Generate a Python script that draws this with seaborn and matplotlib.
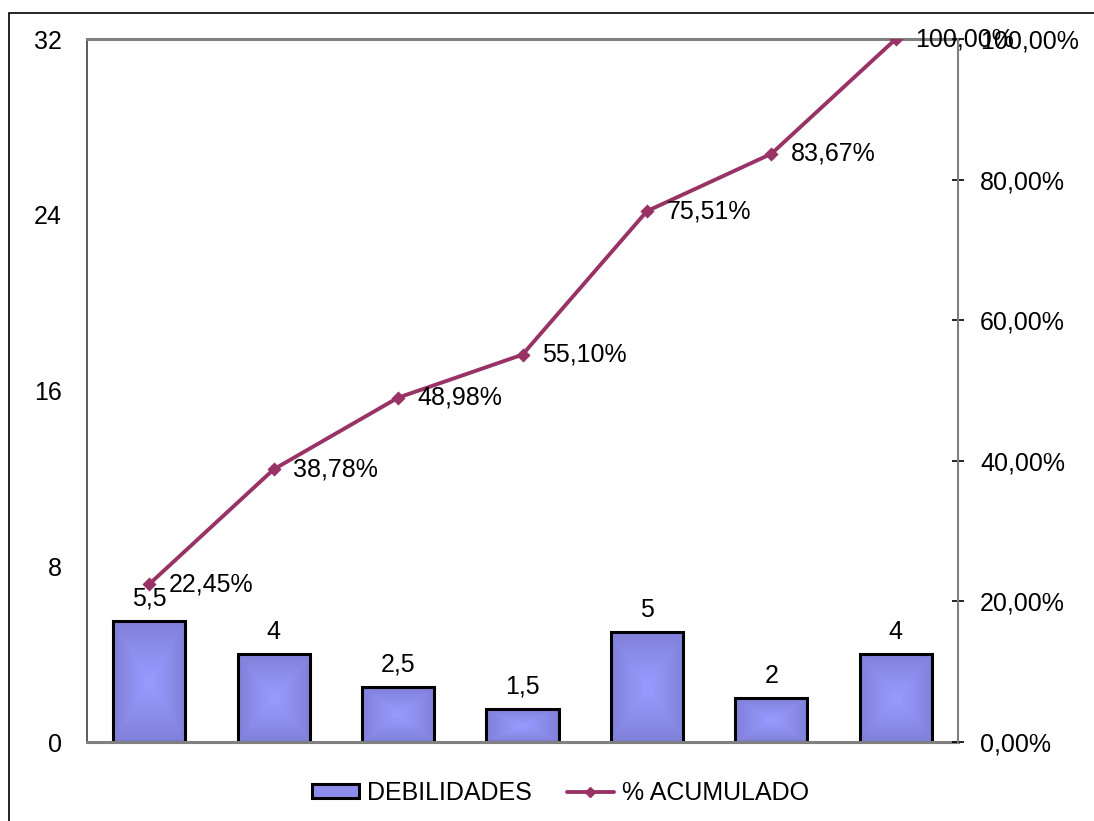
import numpy as np
import pandas as pd
import matplotlib
matplotlib.use("Agg")
import matplotlib.pyplot as plt
import matplotlib.patches as mpatches
from matplotlib.lines import Line2D
import seaborn as sns

categories = ["D1", "D2", "D3", "D4", "D5", "D6", "D7"]
debilidades = [5.5, 4, 2.5, 1.5, 5, 2, 4]
acumulado = [22.45, 38.78, 48.98, 55.10, 75.51, 83.67, 100.00]
left_ticks = [0, 8, 16, 24, 32]
right_ticks = [0, 20, 40, 60, 80, 100]

sns.set_style("white")
plt.rcParams["font.family"] = ["Liberation Sans", "DejaVu Sans"]
plt.rcParams["text.color"] = "black"
plt.rcParams["xtick.color"] = "black"
plt.rcParams["ytick.color"] = "black"
plt.rcParams["xtick.labelcolor"] = "black"
plt.rcParams["ytick.labelcolor"] = "black"
FS = 18

BAR_CENTER = np.array([0x99, 0x99, 0xFF]) / 255
BAR_EDGE = np.array([0x80, 0x80, 0xD8]) / 255
LINE_C = "#993366"

fig = plt.figure(figsize=(10.94, 8.21), dpi=100)
ax = fig.add_axes([87 / 1094, 1 - 742 / 821, (958 - 87) / 1094, (742 - 39) / 821])

df = pd.DataFrame({"cat": categories, "val": debilidades})
sns.barplot(data=df, x="cat", y="val", ax=ax, color=BAR_EDGE, width=0.58,
            edgecolor="black", linewidth=2.2, saturation=1)
ax.set_xlim(-0.5, len(categories) - 0.5)
ax.set_ylim(0, 32)

# gradient fill for each bar (from center)
n = 100
u = np.linspace(-1, 1, n)
U, V = np.meshgrid(u, u)
T = np.maximum(np.abs(U), np.abs(V))[..., None] ** 1.2
grad = BAR_CENTER * (1 - T) + BAR_EDGE * T
for p in ax.patches:
    x0, y0 = p.get_x(), p.get_y()
    w, h = p.get_width(), p.get_height()
    ax.imshow(grad, extent=(x0, x0 + w, y0, y0 + h), aspect="auto",
              zorder=p.get_zorder() - 0.1, interpolation="bilinear")
    p.set_facecolor("none")
ax.set_xlim(-0.5, len(categories) - 0.5)
ax.set_ylim(0, 32)

for i, v in enumerate(debilidades):
    ax.annotate(f"{v:g}".replace(".", ","), (i, v), xytext=(0, 16),
                textcoords="offset points", ha="center", va="center",
                fontsize=FS, color="black")

ax.set_yticks(left_ticks)
ax.set_yticklabels([str(t) for t in left_ticks], fontsize=FS)
ax.set_xticks(range(len(categories)))
ax.set_xticklabels([])
ax.set_xlabel("")
ax.set_ylabel("")
ax.tick_params(axis="x", length=0)
ax.tick_params(axis="y", length=0, pad=18, labelcolor="black")
for s in ["top", "bottom"]:
    ax.spines[s].set_color("#808080")
    ax.spines[s].set_linewidth(2.2)
ax.spines["left"].set_color("#404040")
ax.spines["left"].set_linewidth(1.2)
ax.spines["right"].set_visible(False)

ax2 = ax.twinx()
sns.pointplot(x=categories, y=acumulado, ax=ax2, color=LINE_C, markers="D",
              linestyles="-", markersize=5.5, linewidth=2.8)
ax2.set_xlim(-0.5, len(categories) - 0.5)
ax2.set_ylim(0, 100)
ax2.set_yticks(right_ticks)
ax2.set_yticklabels([f"{t:.2f}%".replace(".", ",") for t in right_ticks], fontsize=FS)
ax2.tick_params(axis="y", direction="inout", length=9, width=1.2, color="black",
                pad=11.5, labelcolor="black")
for s in ["top", "bottom", "left"]:
    ax2.spines[s].set_visible(False)
ax2.spines["right"].set_color("#808080")
ax2.spines["right"].set_linewidth(1.5)
ax2.set_xlabel("")
ax2.set_ylabel("")

for i, v in enumerate(acumulado):
    ax2.annotate(f"{v:.2f}%".replace(".", ","), (i, v), xytext=(14, 0),
                 textcoords="offset points", ha="left", va="center",
                 fontsize=FS, color="black")

handles = [mpatches.Patch(facecolor="#8C8CEC", edgecolor="black", linewidth=2.2),
           Line2D([0], [0], color=LINE_C, lw=2.8, marker="D", markersize=5.5)]
fig.legend(handles, ["DEBILIDADES", "% ACUMULADO"], loc="center",
           bbox_to_anchor=(0.512, 1 - 793 / 821), ncol=2, frameon=False,
           fontsize=FS, handlelength=1.9, handleheight=0.5, handletextpad=0.3,
           columnspacing=1.4)

fig.patches.append(mpatches.Rectangle((9 / 1094, -0.2), 2, 1 - 13 / 821 + 0.2,
                                      transform=fig.transFigure, fill=False,
                                      edgecolor="black", linewidth=1.2))

fig.savefig("out.png", dpi=100, facecolor="white")
